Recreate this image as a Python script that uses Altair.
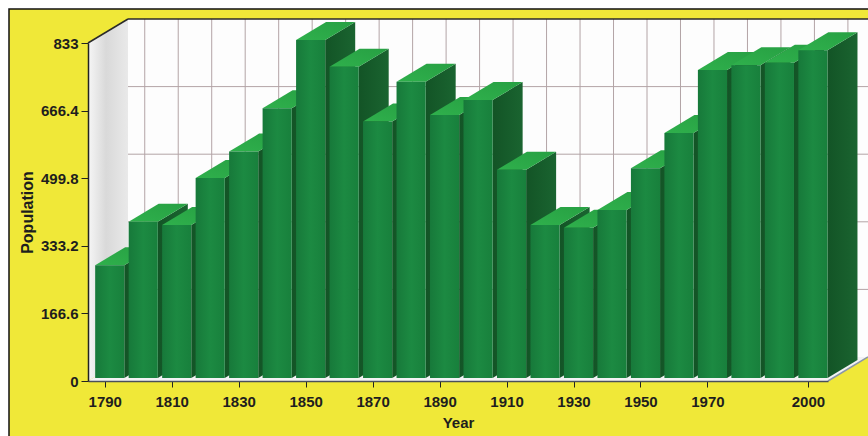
import altair as alt
import pandas as pd

# ---- data ----
years = [1790, 1800, 1810, 1820, 1830, 1840, 1850, 1860, 1870, 1880, 1890,
         1900, 1910, 1920, 1930, 1940, 1950, 1960, 1970, 1980, 1990, 2000]
population = [278, 385, 377, 493, 558, 665, 833, 767, 632, 730, 648,
              685, 513, 377, 370, 414, 517, 604, 759, 771, 777, 808]
y_ticks = [0, 166.6, 333.2, 499.8, 666.4, 833]
x_ticks = [1790, 1810, 1830, 1850, 1870, 1890, 1910, 1930, 1950, 1970, 2000]

# ---- geometry / style constants ----
X0, X1 = 1785, 2006
Y0, Y1 = 0, 833
W, H = 740, 338
KX = W / (X1 - X0)
KY = H / (Y1 - Y0)
DXW = 40 / KX          # depth offset of the back wall, in data units
DYW = 24 / KY
HW = 4.35              # half bar width (years)
DF, DB = 0.125, 0.875  # bar front / back depth fractions

FONT = "Liberation Sans"
TXT = "#1e1e1e"

xs = alt.Scale(domain=[X0, X1], nice=False, zero=False)
ys = alt.Scale(domain=[Y0, Y1], nice=False, zero=True)
xa = alt.Axis(values=x_ticks, format="d", title="Year", grid=False,
              domainColor="#4a4f5a", domainWidth=1.5, tickColor="#222", tickSize=6,
              labelPadding=7, labelFont=FONT, labelFontSize=15, labelFontWeight="bold",
              labelColor=TXT, titleFont=FONT, titleFontSize=15, titleFontWeight="bold",
              titleColor=TXT, titlePadding=6, labelOverlap=False, labelFlush=False, zindex=1)
ya = alt.Axis(values=y_ticks, labelExpr="datum.value + ''", title="Population", grid=False,
              domainColor="#222", domainWidth=1.5, tickColor="#222", tickSize=7,
              labelPadding=3, labelFont=FONT, labelFontSize=15, labelFontWeight="bold",
              labelColor=TXT, titleFont=FONT, titleFontSize=16, titleFontWeight="bold",
              titleColor=TXT, titlePadding=5, zindex=1)

def X(f):
    return alt.X(f, type="quantitative", scale=xs, axis=xa)

def Y(f):
    return alt.Y(f, type="quantitative", scale=ys, axis=ya)

one = pd.DataFrame({"a": [0]})

# frame
frame = alt.Chart(one).mark_rect(fill="#f0e838", stroke="#111", strokeWidth=1.5).encode(
    x=alt.value(-79), x2=alt.value(800), y=alt.value(-34), y2=alt.value(410))

# back wall
wall = alt.Chart(pd.DataFrame({"x": [X0 + DXW], "x2": [X1 + DXW], "y": [DYW], "y2": [Y1 + DYW]})
                 ).mark_rect(fill="#fdfdfd").encode(x=X("x"), x2="x2", y=Y("y"), y2="y2")

# left wall
lwall = alt.Chart(pd.DataFrame({"x": [X0, X0 + DXW], "y": [Y1, Y1 + DYW], "y2": [Y0, DYW]})
                  ).mark_area(orient="vertical", color=alt.Gradient(
                      gradient="linear", x1=0, y1=0, x2=1, y2=0,
                      stops=[alt.GradientStop(color="#f6f6f6", offset=0),
                             alt.GradientStop(color="#d9d9d9", offset=0.45),
                             alt.GradientStop(color="#e9e9e9", offset=1)])
                  ).encode(x=X("x"), y=Y("y"), y2="y2")

# floor
floor = alt.Chart(pd.DataFrame({"y": [Y0, DYW], "x": [X0, X0 + DXW], "x2": [X1, X1 + DXW]})
                  ).mark_area(orient="horizontal", color="#f2f2f4").encode(
    y=Y("y"), x=X("x"), x2="x2")

# grid on back wall
hgrid = alt.Chart(pd.DataFrame({"y": [t + DYW for t in y_ticks[1:-1]]})).mark_rule(
    color="#b3a4a6", strokeWidth=1).encode(
    y=Y("y"), x=alt.datum(X0 + DXW, scale=xs), x2=alt.datum(X1 + DXW))
vgrid = alt.Chart(pd.DataFrame({"x": [yr + DXW for yr in years]})).mark_rule(
    color="#b3a4a6", strokeWidth=1).encode(
    x=X("x"), y=alt.datum(DYW, scale=ys), y2=alt.datum(Y1 + DYW))

# wall edges
edges = alt.Chart(pd.DataFrame({
    "x": [X0, X0 + DXW, X1], "x2": [X0 + DXW, X1 + DXW, X1 + DXW],
    "y": [Y1, Y1 + DYW, Y0], "y2": [Y1 + DYW, Y1 + DYW, DYW],
    "c": ["a", "a", "b"]})).mark_rule(strokeWidth=1.5).encode(
    x=X("x"), x2="x2", y=Y("y"), y2="y2",
    color=alt.Color("c:N", scale=alt.Scale(domain=["a", "b"], range=["#2a2a2a", "#8a96a8"]), legend=None))

# bar faces
rows_side, rows_top, rows_front = [], [], []
for yr, v in zip(years, population):
    xl = yr - HW
    xr = yr + HW
    rows_front.append({"id": yr, "x": xl + DF * DXW, "x2": xr + DF * DXW,
                       "y": DF * DYW, "y2": v + DF * DYW})
    for d in (DF, DB):
        rows_side.append({"id": yr, "x": xr + d * DXW, "y": v + d * DYW, "y2": d * DYW})
        rows_top.append({"id": yr, "y": v + d * DYW, "x": xl + d * DXW, "x2": xr + d * DXW})

side = alt.Chart(pd.DataFrame(rows_side)).mark_area(orient="vertical", color=alt.Gradient(
    gradient="linear", x1=0, y1=0, x2=1, y2=0,
    stops=[alt.GradientStop(color="#135426", offset=0),
           alt.GradientStop(color="#1a6430", offset=1)])).encode(
    x=X("x"), y=Y("y"), y2="y2", detail="id:N")

top = alt.Chart(pd.DataFrame(rows_top)).mark_area(orient="horizontal", color=alt.Gradient(
    gradient="linear", x1=0, y1=1, x2=1, y2=0,
    stops=[alt.GradientStop(color="#2fb04c", offset=0),
           alt.GradientStop(color="#27a043", offset=1)])).encode(
    y=Y("y"), x=X("x"), x2="x2", detail="id:N")

front = alt.Chart(pd.DataFrame(rows_front)).mark_rect(color=alt.Gradient(
    gradient="linear", x1=0, y1=0, x2=1, y2=0,
    stops=[alt.GradientStop(color="#17793a", offset=0),
           alt.GradientStop(color="#1c8a42", offset=0.5),
           alt.GradientStop(color="#18803c", offset=1)])).encode(
    x=X("x"), x2="x2", y=Y("y"), y2="y2")

chart = alt.layer(frame, wall, lwall, floor, hgrid, vgrid, edges, side, top, front).properties(
    width=W, height=H,
    autosize=alt.AutoSizeParams(type="none"),
    padding={"left": 88, "top": 43, "right": 868 - 88 - W, "bottom": 436 - 43 - H},
    background="white",
).configure_view(stroke=None)

chart.save("out.html", embed_options={"renderer": "svg", "actions": False})
